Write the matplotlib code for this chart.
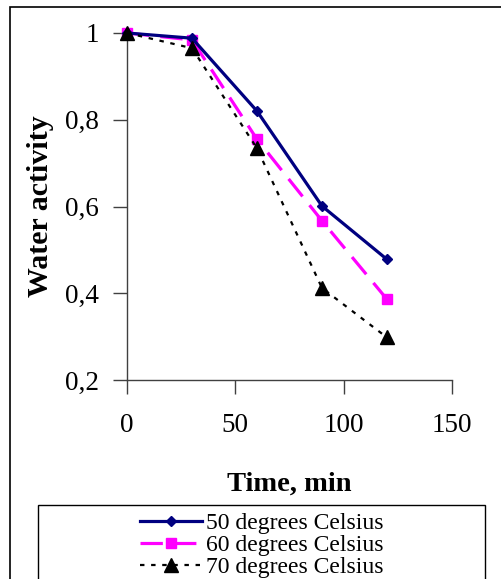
import matplotlib
matplotlib.use("Agg")
import matplotlib.pyplot as plt
from matplotlib.patches import Rectangle
from matplotlib.lines import Line2D

time_min = [0, 30, 60, 90, 120]
aw_50 = [1.0, 0.988, 0.820, 0.601, 0.478]
aw_60 = [1.0, 0.984, 0.755, 0.567, 0.386]
aw_70 = [1.0, 0.965, 0.734, 0.412, 0.298]
labels = ["50 degrees Celsius", "60 degrees Celsius", "70 degrees Celsius"]
xticks = [0, 50, 100, 150]
yticks = [0.2, 0.4, 0.6, 0.8, 1.0]
yticklabels = ["0,2", "0,4", "0,6", "0,8", "1"]

plt.rcParams['font.family'] = ['Liberation Serif', 'DejaVu Serif']

W, H = 502, 579
fig = plt.figure(figsize=(W/100, H/100), dpi=100)
fig.patch.set_facecolor('white')

# outer frame
fig.add_artist(Rectangle((10/W, -0.1), 1.2, 1 - 7/H + 0.1, transform=fig.transFigure,
                         fill=False, edgecolor='black', linewidth=1.2))

ax = fig.add_axes([127/W, 1 - 380/H, (452-127)/W, (380-33)/H])
ax.set_facecolor('none')

l1, = ax.plot(time_min, aw_50, color='#000080', lw=2.3, marker='D', ms=5,
              clip_on=False, zorder=3)
l2, = ax.plot(time_min, aw_60, color='#FF00FF', lw=2.3, marker='s', ms=7.5,
              dashes=(7, 3.5), clip_on=False, zorder=2)
l3, = ax.plot(time_min, aw_70, color='black', lw=1.6, marker='^', ms=9.5,
              dashes=(2, 3), clip_on=False, zorder=4)

ax.set_xlim(0, 150)
ax.set_ylim(0.2, 1.0)
ax.set_xticks(xticks)
ax.set_xticklabels([str(v) for v in xticks])
ax.set_yticks(yticks)
ax.set_yticklabels(yticklabels)
for s in ['top', 'right']:
    ax.spines[s].set_visible(False)
for s in ['left', 'bottom']:
    ax.spines[s].set_color('#404040')
    ax.spines[s].set_linewidth(1.0)
ax.tick_params(axis='both', direction='out', length=10, width=1.0, color='#404040',
               labelsize=19.5)
ax.tick_params(axis='x', pad=14)
ax.tick_params(axis='y', pad=10)

ax.set_xlabel("Time, min", fontsize=20.5, fontweight='bold', labelpad=24)
ax.set_ylabel("Water activity", fontsize=21.5, fontweight='bold', labelpad=8)

# legend frame
fig.add_artist(Rectangle((38/W, -0.1), (485-38)/W, (579-505)/H + 0.1,
                         transform=fig.transFigure, fill=False,
                         edgecolor='black', linewidth=1.0))
leg = fig.legend([l1, l2, l3], labels, loc='center', bbox_to_anchor=(262/W, 1 - 545/H),
                 frameon=False, fontsize=17, labelspacing=0.02, handlelength=2.6,
                 handletextpad=0.2, borderpad=0)

fig.savefig("out.png", dpi=100)
